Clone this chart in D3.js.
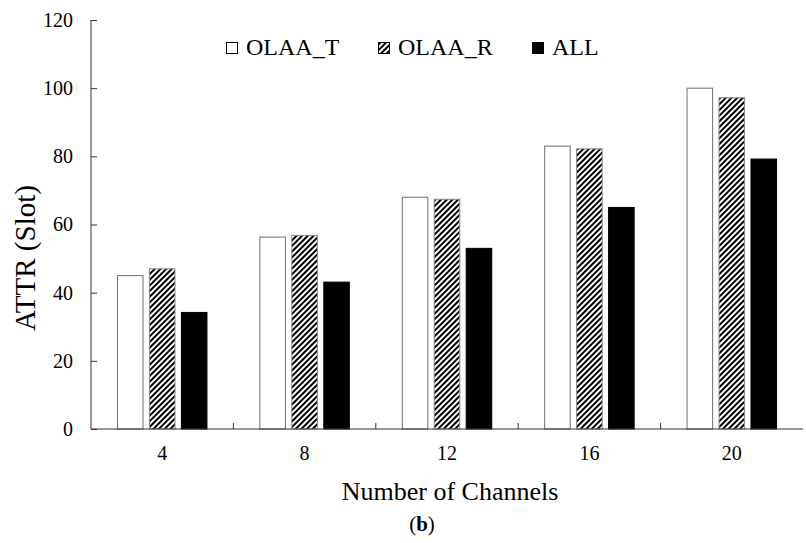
<!doctype html>
<html lang="en">
  <head>
    <meta charset="UTF-8" />
    <title>ATTR vs channels</title>
    <style>
      body { margin: 0; background: #fff; }
      svg { display: block; font-family: "Liberation Serif", "Times New Roman", serif; }
    </style>
  </head>
  <body>
    <svg id="chart"></svg>
    <script src="https://d3js.org/d3.v7.min.js"></script>
    <script>
      /* global d3 */
      const channels = ["4", "8", "12", "16", "20"];
      const seriesNames = ["OLAA_T", "OLAA_R", "ALL"];
      const olaaT = [45, 56.3, 68, 83, 100];
      const olaaR = [47, 56.8, 67.4, 82.2, 97.2];
      const all = [34.2, 43.1, 53, 65, 79.2];
      const yTicks = [0, 20, 40, 60, 80, 100, 120];

      const width = 806, height = 543;
      const margin = { left: 91, right: 3, top: 20, bottom: 114 };

      const svg = d3.select("#chart").attr("width", width).attr("height", height);

      const defs = svg.append("defs");
      const pat = defs.append("pattern")
        .attr("id", "hatch")
        .attr("patternUnits", "userSpaceOnUse")
        .attr("width", 4)
        .attr("height", 4)
        .attr("patternTransform", "rotate(45)");
      pat.append("rect").attr("width", 4).attr("height", 4).attr("fill", "#fff");
      pat.append("rect").attr("width", 2).attr("height", 4).attr("fill", "#000");

      const x = d3.scaleBand()
        .domain(channels)
        .range([margin.left, width - margin.right]);
      const sub = d3.scaleBand()
        .domain(seriesNames)
        .range([-44.75, 44.75])
        .paddingInner(0.2);
      const y = d3.scaleLinear()
        .domain([0, 120])
        .range([height - margin.bottom, margin.top]);

      const values = { OLAA_T: olaaT, OLAA_R: olaaR, ALL: all };
      const fills = { OLAA_T: "#fff", OLAA_R: "url(#hatch)", ALL: "#000" };
      const strokes = { OLAA_T: "#6e6e6e", OLAA_R: "#8a8a8a", ALL: "#000" };

      const groups = svg.append("g").selectAll("g")
        .data(channels)
        .join("g")
        .attr("transform", (d) => `translate(${x(d) + x.bandwidth() / 2},0)`);

      groups.selectAll("rect")
        .data((c, i) => seriesNames.map((s) => ({ s, v: values[s][i] })))
        .join("rect")
        .attr("x", (d) => sub(d.s))
        .attr("width", sub.bandwidth())
        .attr("y", (d) => y(d.v))
        .attr("height", (d) => y(0) - y(d.v))
        .attr("fill", (d) => fills[d.s])
        .attr("stroke", (d) => strokes[d.s])
        .attr("stroke-width", 1);

      // axes (ticks point inward)
      const axisColor = "#333";
      const yAxis = svg.append("g")
        .attr("transform", `translate(${margin.left},0)`)
        .call(d3.axisLeft(y).tickValues(yTicks).tickSize(-6).tickPadding(18));
      yAxis.select(".domain").attr("stroke", axisColor).attr("d", `M0,${y(120)}V${y(0)}`);
      yAxis.selectAll(".tick line").attr("stroke", axisColor);
      yAxis.selectAll("text").attr("font-size", 20).attr("fill", "#000").attr("font-family", "Liberation Serif");

      const xAxis = svg.append("g")
        .attr("transform", `translate(0,${y(0)})`)
        .call(d3.axisBottom(x).tickSize(0).tickPadding(17));
      xAxis.select(".domain").attr("stroke", axisColor).attr("d", `M${margin.left},0H${width - margin.right}`);
      xAxis.selectAll("text").attr("font-size", 20).attr("fill", "#000").attr("font-family", "Liberation Serif");
      // category separator ticks (pointing up)
      svg.append("g").selectAll("line")
        .data(channels.slice(1))
        .join("line")
        .attr("x1", (d) => x(d))
        .attr("x2", (d) => x(d))
        .attr("y1", y(0))
        .attr("y2", y(0) - 6)
        .attr("stroke", axisColor);

      // axis titles
      svg.append("text")
        .attr("x", 450)
        .attr("y", 500)
        .attr("text-anchor", "middle")
        .attr("font-size", 26)
        .text("Number of Channels");
      svg.append("text")
        .attr("transform", `translate(35,258) rotate(-90)`)
        .attr("text-anchor", "middle")
        .attr("font-size", 29)
        .text("ATTR (Slot)");

      const cap = svg.append("text")
        .attr("x", 422)
        .attr("y", 531)
        .attr("text-anchor", "middle")
        .attr("font-size", 21);
      cap.append("tspan").text("(");
      cap.append("tspan").attr("font-weight", "bold").text("b");
      cap.append("tspan").text(")");

      // legend
      const legendX = [226, 378, 532];
      const legend = svg.append("g").selectAll("g")
        .data(seriesNames)
        .join("g")
        .attr("transform", (d, i) => `translate(${legendX[i]},55)`);
      legend.append("rect")
        .attr("x", 0.5)
        .attr("y", -12.5)
        .attr("width", 11)
        .attr("height", 11)
        .attr("fill", (d) => fills[d])
        .attr("stroke", "#000")
        .attr("stroke-width", 1);
      legend.append("text")
        .attr("x", 20)
        .attr("y", 0)
        .attr("font-size", 24)
        .text((d) => d);
    </script>
  </body>
</html>
